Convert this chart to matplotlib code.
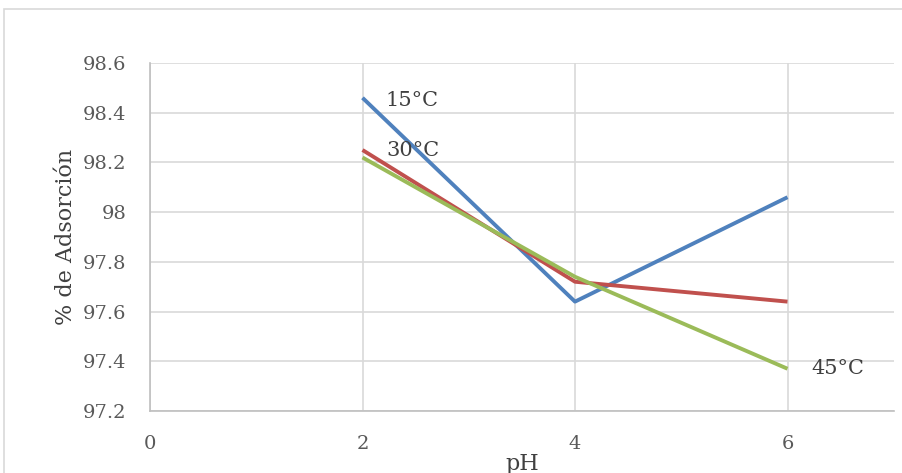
import numpy as np
import matplotlib.pyplot as plt
from matplotlib.patches import Rectangle

ph = [2, 4, 6]
ads_15 = [98.46, 97.64, 98.06]
ads_30 = [98.25, 97.72, 97.64]
ads_45 = [98.22, 97.74, 97.37]
series = [("15°C", ads_15, "#4f81bd"), ("30°C", ads_30, "#c0504d"), ("45°C", ads_45, "#9bbb59")]

plt.rcParams["font.family"] = ["DejaVu Serif"]

fig = plt.figure(figsize=(9.02, 4.73), dpi=100)
W, H = 902, 473
ax = fig.add_axes([150 / W, 1 - 411 / H, (893.75 - 150) / W, (411 - 63) / H])

# outer chart frame (cut off at right/bottom like the reference)
fig.patches.append(Rectangle((4 / W, -0.1), 1.2, 1 - 9 / H + 0.1, transform=fig.transFigure,
                             fill=False, edgecolor="#d9d9d9", lw=1.2))

for name, vals, col in series:
    ax.plot(ph, vals, color=col, lw=2.8, solid_capstyle="butt")

ax.set_xlim(0, 7)
ax.set_ylim(97.2, 98.6)
ax.set_xticks([0, 2, 4, 6])
ax.set_yticks(np.arange(97.2, 98.61, 0.2))
ax.set_yticklabels(["97.2", "97.4", "97.6", "97.8", "98", "98.2", "98.4", "98.6"])
ax.grid(True, color="#d9d9d9", lw=1.2)
ax.set_axisbelow(True)
for s in ["top", "right"]:
    ax.spines[s].set_visible(False)
for s in ["left", "bottom"]:
    ax.spines[s].set_color("#bfbfbf")
    ax.spines[s].set_linewidth(1.2)
ax.tick_params(length=0, labelsize=14, colors="#595959", pad=17)
ax.tick_params(axis="x", pad=17)

ax.set_xlabel("pH", fontsize=16, color="#404040", labelpad=0)
ax.set_ylabel("% de Adsorción", fontsize=16, color="#404040", labelpad=4)

ax.text(2.22, 98.45, "15°C", fontsize=15, color="#404040", va="center")
ax.text(2.22, 98.25, "30°C", fontsize=15, color="#404040", va="center")
ax.text(6.22, 97.37, "45°C", fontsize=15, color="#404040", va="center")

fig.savefig("out.png", dpi=100)
